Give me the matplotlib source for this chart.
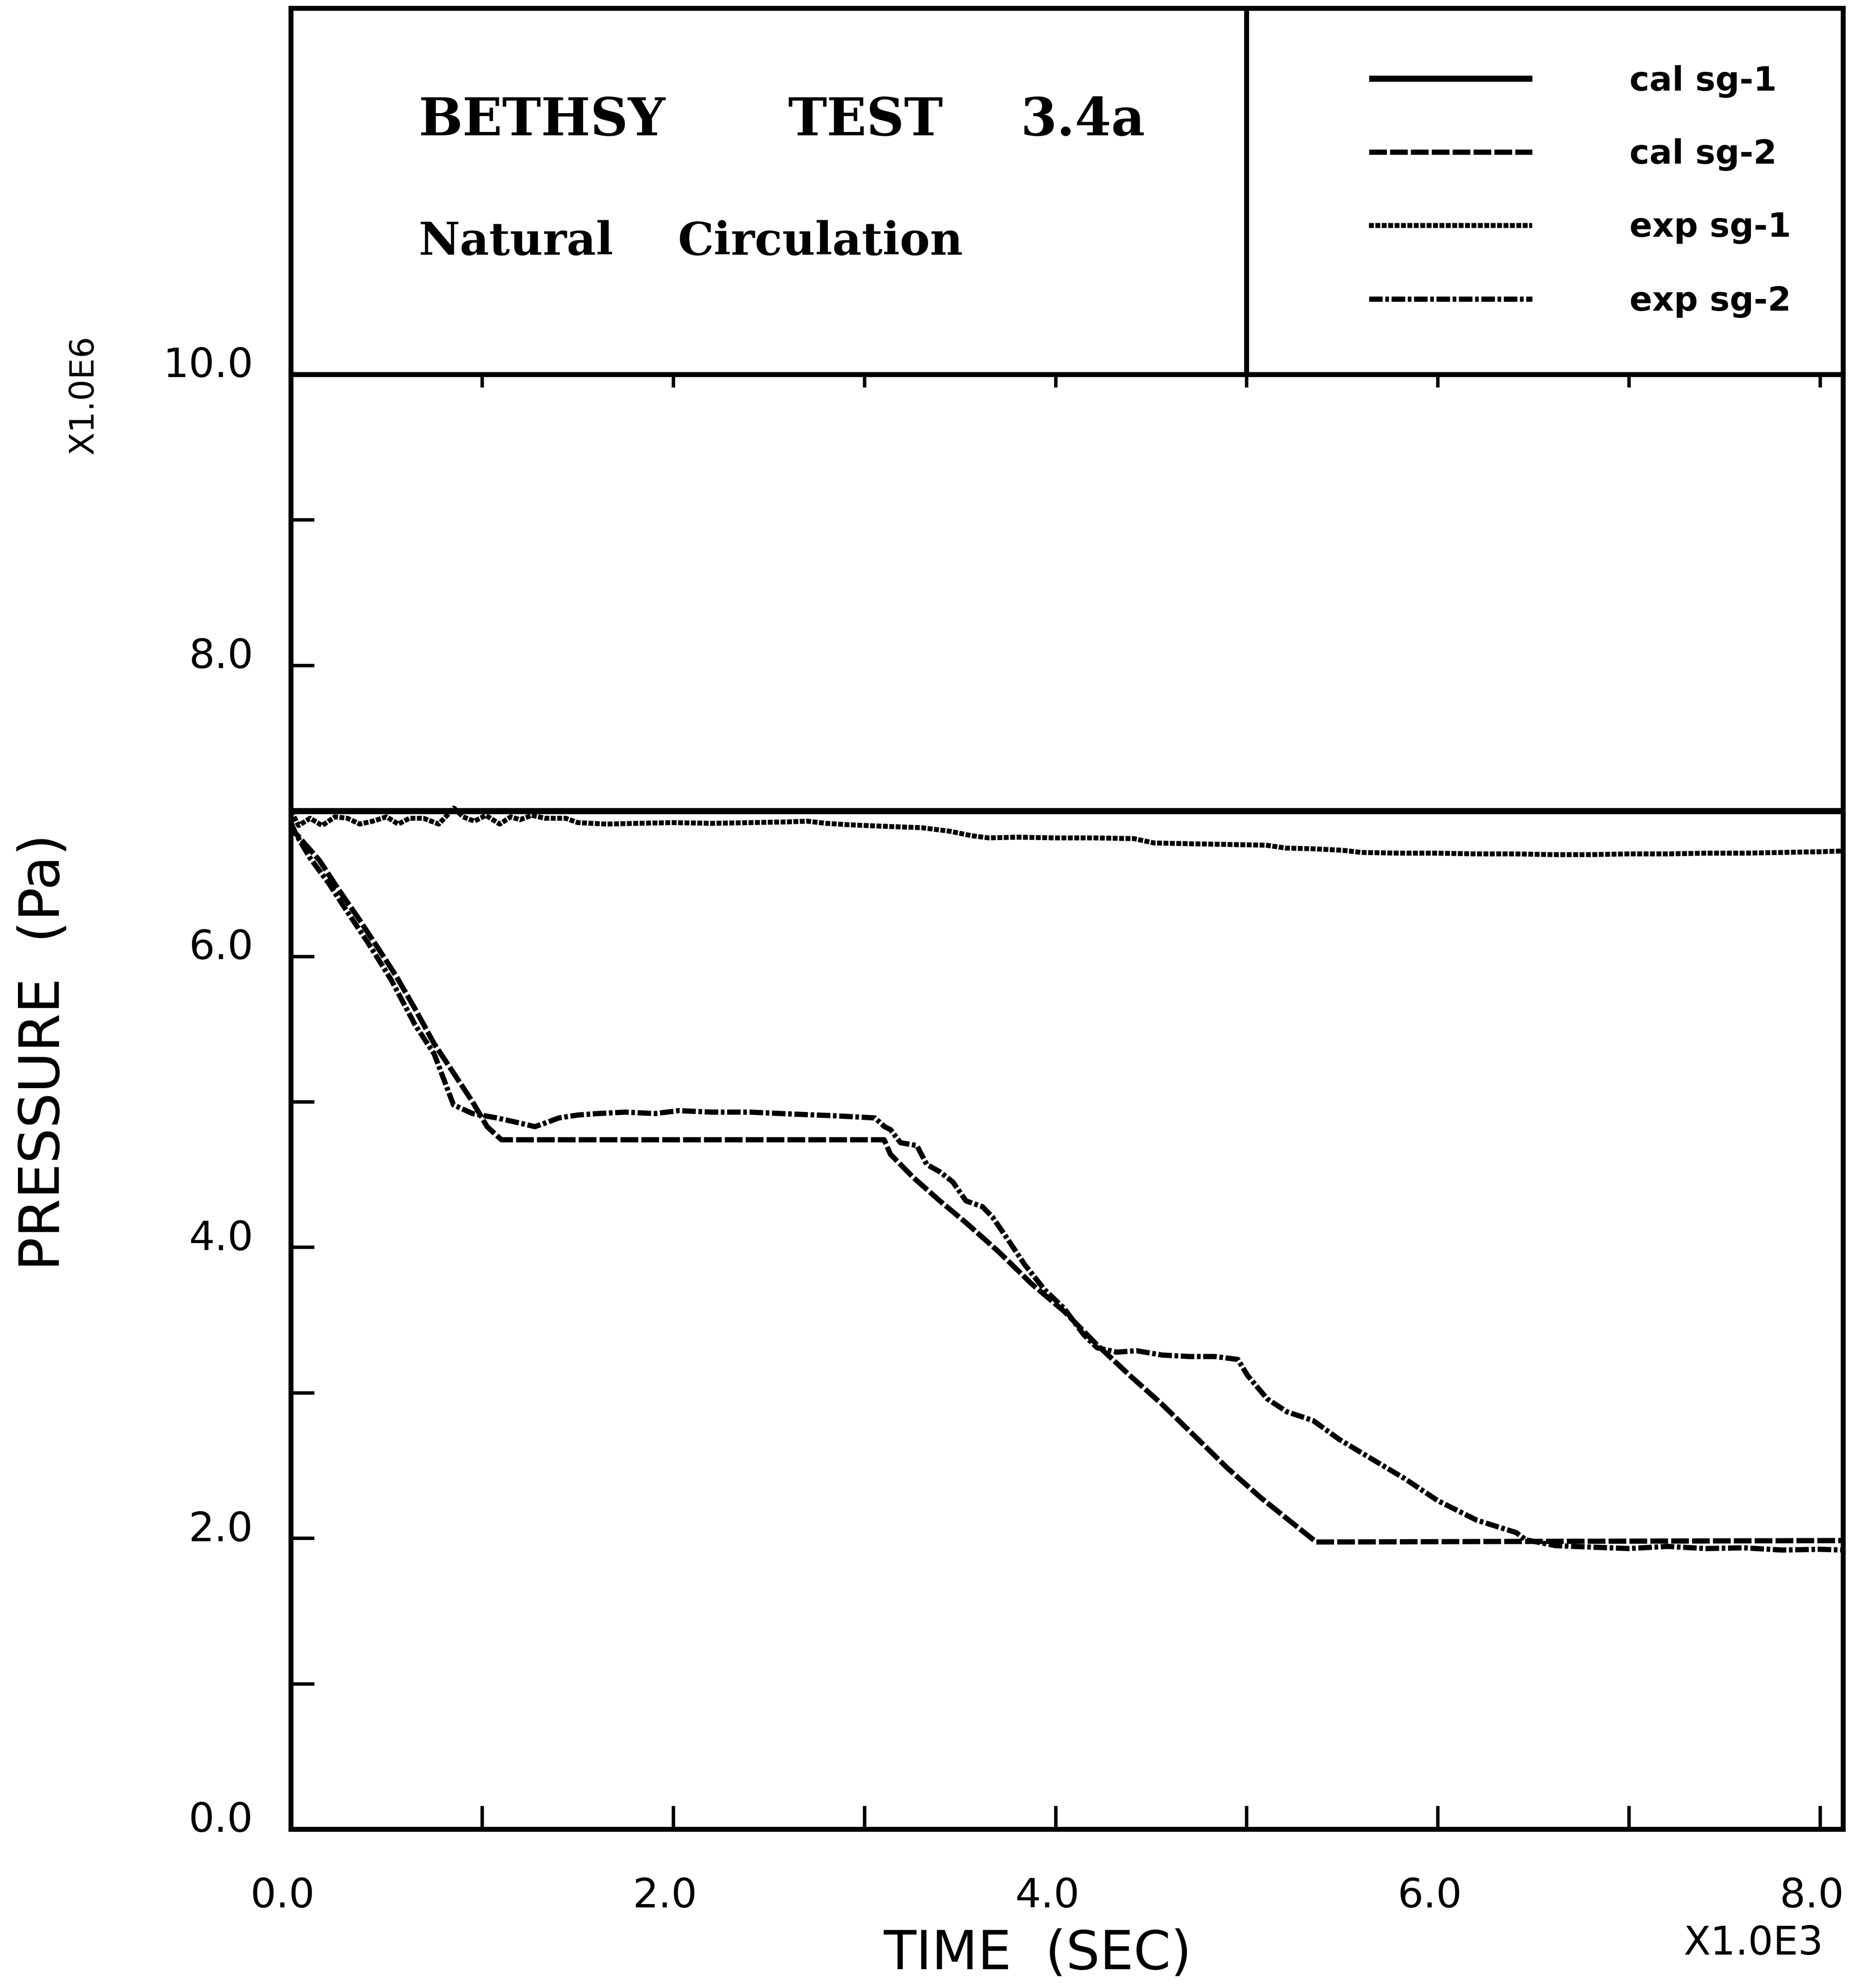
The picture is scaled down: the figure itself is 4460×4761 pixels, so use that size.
import matplotlib
matplotlib.use("Agg")
import matplotlib.pyplot as plt
import matplotlib.transforms as mtransforms
from matplotlib.ticker import FixedLocator, FuncFormatter, NullFormatter

# ---------------- data (time in s, pressure in MPa) ----------------
series_labels = ["cal sg-1", "cal sg-2", "exp sg-1", "exp sg-2"]

time_cal_sg1 = [0, 8120]
pres_cal_sg1 = [7.00, 7.00]

time_cal_sg2 = [0, 22, 149, 249, 349, 449, 548, 649, 749, 850, 950, 1026, 1101,
                3103, 3136, 3256, 3394, 3531, 3702, 3874, 4045, 4217, 4388, 4558,
                4730, 4901, 5073, 5244, 5363, 8120]
pres_cal_sg2 = [6.92, 6.85, 6.66, 6.46, 6.27, 6.07, 5.87, 5.64, 5.40, 5.20, 5.00, 4.83, 4.74,
                4.74, 4.64, 4.48, 4.32, 4.17, 3.97, 3.75, 3.56, 3.33, 3.12, 2.92,
                2.70, 2.48, 2.28, 2.10, 1.975, 1.985]

time_exp_sg1 = [0, 40, 100, 163, 230, 295, 360, 428, 500, 561, 620, 693, 773, 852, 900,
                959, 1020, 1092, 1150, 1197, 1260, 1330, 1437, 1500, 1650, 1800, 2000,
                2200, 2400, 2600, 2700, 2800, 2922, 3100, 3300, 3450, 3560, 3650, 3800,
                4000, 4200, 4409, 4515, 4700, 4900, 5100, 5204, 5350, 5500, 5600, 5800,
                6000, 6200, 6400, 6600, 6800, 7000, 7200, 7400, 7600, 7800, 8000, 8120]
pres_exp_sg1 = [7.00, 6.90, 6.95, 6.90, 6.96, 6.95, 6.91, 6.93, 6.96, 6.91, 6.95, 6.95, 6.91, 7.02, 6.96,
                6.93, 6.97, 6.91, 6.96, 6.94, 6.97, 6.95, 6.95, 6.92, 6.91, 6.915, 6.92,
                6.915, 6.92, 6.925, 6.93, 6.915, 6.905, 6.895, 6.885, 6.86, 6.83, 6.815, 6.82,
                6.815, 6.815, 6.81, 6.78, 6.775, 6.77, 6.765, 6.745, 6.74, 6.73, 6.715, 6.71,
                6.71, 6.705, 6.705, 6.70, 6.70, 6.705, 6.705, 6.71, 6.71, 6.715, 6.72, 6.725]

time_exp_sg2 = [0, 22, 98, 199, 273, 400, 524, 649, 749, 850, 950, 1077, 1180, 1276, 1340,
                1401, 1500, 1603, 1750, 1903, 2028, 2200, 2400, 2655, 2846, 3055, 3105,
                3136, 3188, 3274, 3326, 3394, 3462, 3531, 3617, 3669, 3737, 3839, 3942,
                4045, 4147, 4217, 4320, 4422, 4558, 4700, 4833, 4953, 5004, 5106, 5210,
                5347, 5484, 5655, 5827, 5998, 6203, 6409, 6460, 6615, 6800, 7000, 7200,
                7400, 7600, 7800, 8000, 8120]
pres_exp_sg2 = [6.92, 6.85, 6.68, 6.50, 6.35, 6.10, 5.84, 5.53, 5.33, 4.98, 4.92, 4.89, 4.86, 4.83, 4.86,
                4.89, 4.91, 4.92, 4.93, 4.92, 4.94, 4.93, 4.93, 4.915, 4.905, 4.89, 4.83,
                4.81, 4.72, 4.70, 4.57, 4.52, 4.45, 4.32, 4.28, 4.21, 4.08, 3.88, 3.71,
                3.58, 3.40, 3.31, 3.28, 3.29, 3.26, 3.25, 3.25, 3.23, 3.12, 2.96, 2.87,
                2.81, 2.68, 2.545, 2.41, 2.26, 2.125, 2.04, 1.99, 1.95, 1.94, 1.93, 1.945,
                1.93, 1.935, 1.92, 1.925, 1.92]

x_ticks = [0, 1, 2, 3, 4, 5, 6, 7, 8]
y_ticks = [0, 1, 2, 3, 4, 5, 6, 7, 8, 9, 10]

# ---------------- figure geometry (pixels) ----------------
W, H, DPI = 4460, 4761, 100
fig = plt.figure(figsize=(W / DPI, H / DPI), dpi=DPI)
fig.patch.set_facecolor("white")


def fx(px):
    return px / W


def fy(py):
    return 1 - py / H


AX_L, AX_R, AX_T, AX_B, HDR_T = 697, 4415, 897, 4381, 20
SPINE_LW = 8.5

ax = fig.add_axes([fx(AX_L), fy(AX_B), fx(AX_R) - fx(AX_L), fy(AX_T) - fy(AX_B)])
hdr = fig.add_axes([fx(AX_L), fy(AX_T), fx(AX_R) - fx(AX_L), fy(HDR_T) - fy(AX_T)])

# ---------------- curves ----------------
k = "black"
l1, = ax.plot([t / 1000 for t in time_cal_sg1], pres_cal_sg1, color=k, lw=10.5,
              solid_capstyle="butt", label=series_labels[0])
l2, = ax.plot([t / 1000 for t in time_cal_sg2], pres_cal_sg2, color=k, lw=9,
              dashes=(3.4, 0.6), dash_capstyle="butt", label=series_labels[1])
l3, = ax.plot([t / 1000 for t in time_exp_sg1], pres_exp_sg1, color=k, lw=8.5,
              dashes=(1.0, 0.3), dash_capstyle="butt", label=series_labels[2])
l4, = ax.plot([t / 1000 for t in time_exp_sg2], pres_exp_sg2, color=k, lw=9,
              dashes=(2.6, 0.5, 0.7, 0.5), dash_capstyle="butt", label=series_labels[3])

ax.set_xlim(0, 8.12)
ax.set_ylim(0, 10)

# ---------------- axes styling ----------------
for s in ax.spines.values():
    s.set_linewidth(SPINE_LW)

ax.xaxis.set_major_locator(FixedLocator(x_ticks))
ax.yaxis.set_major_locator(FixedLocator(y_ticks))
ax.xaxis.set_major_formatter(FuncFormatter(lambda v, p: f"{v:.1f}" if round(v) % 2 == 0 else ""))
ax.yaxis.set_major_formatter(FuncFormatter(lambda v, p: f"{v:.1f}" if round(v) % 2 == 0 else ""))
ax.tick_params(axis="both", direction="in", length=40, width=6, labelsize=70,
               right=False, top=False)
ax.tick_params(axis="y", pad=65)
ax.tick_params(axis="x", pad=82)

for lab in ax.get_yticklabels():
    lab.set_transform(lab.get_transform() +
                      mtransforms.ScaledTranslation(0, 0.30, fig.dpi_scale_trans))
for lab in ax.get_xticklabels():
    lab.set_transform(lab.get_transform() +
                      mtransforms.ScaledTranslation(-0.20, 0, fig.dpi_scale_trans))

sec = ax.secondary_xaxis("top")
sec.xaxis.set_major_locator(FixedLocator(x_ticks))
sec.xaxis.set_major_formatter(NullFormatter())
sec.tick_params(direction="in", length=22, width=6)
sec.spines["top"].set_linewidth(SPINE_LW)

# ---------------- header box ----------------
hdr.set_xlim(0, 8.12)
hdr.set_ylim(0, 1)
hdr.set_xticks([])
hdr.set_yticks([])
for s in hdr.spines.values():
    s.set_linewidth(SPINE_LW)
hdr.axvline(5.0, color=k, lw=SPINE_LW)

title_font = dict(family="DejaVu Serif", weight="bold", color=k)
fig.text(fx(1002), fy(290), "BETHSY", ha="left", va="center", fontsize=90, **title_font)
fig.text(fx(1888), fy(290), "TEST", ha="left", va="center", fontsize=90, **title_font)
fig.text(fx(2444), fy(290), "3.4a", ha="left", va="center", fontsize=90, **title_font)
fig.text(fx(1002), fy(580), "Natural", ha="left", va="center", fontsize=78, **title_font)
fig.text(fx(1624), fy(580), "Circulation", ha="left", va="center", fontsize=78, **title_font)

fig.legend(handles=[l1, l2, l3, l4], labels=series_labels, loc="upper left",
           bbox_to_anchor=(fx(3279), fy(155)), frameon=False, borderpad=0,
           borderaxespad=0, handlelength=4.85, handletextpad=2.9, labelspacing=1.21,
           prop=dict(family="DejaVu Sans", weight="bold", size=58))

# ---------------- axis titles ----------------
fig.text(fx(105), fy(2520), "PRESSURE  (Pa)", rotation=90, ha="center", va="center",
         fontsize=96, family="DejaVu Sans", color=k)
fig.text(fx(201), fy(945), "X1.0E6", rotation=90, ha="center", va="center",
         fontsize=58, family="DejaVu Sans", color=k)
fig.text(fx(2485), fy(4680), "TIME  (SEC)", ha="center", va="center", fontsize=92,
         family="DejaVu Sans", color=k)
fig.text(fx(4200), fy(4655), "X1.0E3", ha="center", va="center", fontsize=68,
         family="DejaVu Sans", color=k)

fig.savefig("out.png", dpi=DPI, facecolor="white")
